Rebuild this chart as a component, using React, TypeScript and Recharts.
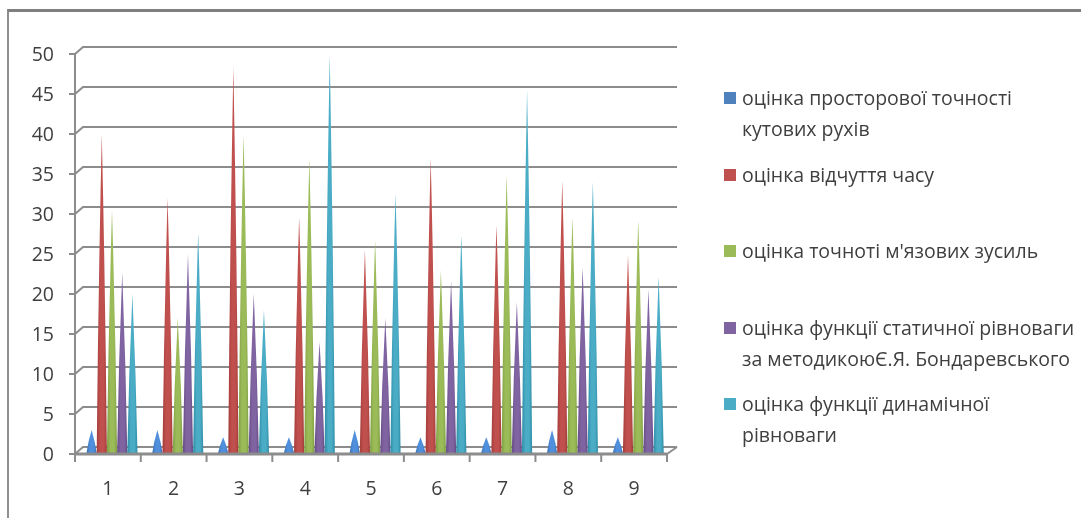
import { BarChart, Bar, XAxis, YAxis, CartesianGrid, Legend } from 'recharts'

const categories = ['1', '2', '3', '4', '5', '6', '7', '8', '9']
const yTicks = [0, 5, 10, 15, 20, 25, 30, 35, 40, 45, 50]

const spatial = [3, 3, 2.1, 2.1, 3, 2.1, 2.1, 3, 2.1]
const timing = [40, 32, 48.4, 29.6, 25.5, 37, 28.6, 34.2, 24.9]
const muscular = [30.5, 17, 40, 37, 26.7, 23, 34.9, 29.6, 29.2]
const staticBalance = [22.7, 25, 20, 14, 17, 21.7, 19, 23.4, 20.6]
const dynamicBalance = [20, 27.6, 18, 50, 32.6, 27.3, 45.5, 34, 22.2]

const seriesNames = [
  'оцінка просторової точності\nкутових рухів',
  'оцінка відчуття часу',
  'оцінка точноті м\'язових зусиль',
  'оцінка функції статичної рівноваги\nза методикоюЄ.Я. Бондаревського',
  'оцінка функції динамічної\nрівноваги',
]
const seriesValues = [spatial, timing, muscular, staticBalance, dynamicBalance]
const seriesColors = ['#4F8FDB', '#C0504D', '#9BBB59', '#8064A2', '#4BACC6']
const seriesEdges = ['#3A6FB5', '#A33C3A', '#7F9E42', '#654C85', '#2F8CA6']
const legendColors = ['#4F81BD', '#C0504D', '#9BBB59', '#8064A2', '#4BACC6']
const legendTops = [86, 163, 239, 316, 392]

const data = categories.map((name, i) => {
  const row: Record<string, string | number> = { name }
  seriesValues.forEach((vals, s) => { row['s' + s] = vals[i] })
  return row
})

const GRID = '#8c8c8c'
const TEXT = '#3f3f3f'
const FONT = '"Open Sans", sans-serif'
const PLOT_W = 592
const BAND = PLOT_W / categories.length

// the cones sit a bit right of the band centre, like in the 3D original,
// and bulge slightly so they stay as fat as the blurred originals
function Cone(props: any) {
  const { x, y, width, height } = props
  const s = props.seriesIndex
  const cx = x + width / 2 + 4.5
  const half = width / 2
  const base = y + height - 1
  const midY = y + height * 0.5
  const d = `M${cx},${y} Q${cx + half * 0.7},${midY} ${cx + half},${base} L${cx - half},${base} Q${cx - half * 0.7},${midY} ${cx},${y} Z`
  return <path d={d} fill={`url(#cone${s})`} />
}

function GridLine(props: any) {
  const { x1, x2, y1 } = props
  return (
    <polyline
      points={`${x1},${y1} ${x1 + 8},${y1 - 7} ${x2 + 10},${y1 - 7}`}
      fill="none"
      stroke={GRID}
      strokeWidth={2}
    />
  )
}

function XTick(props: any) {
  const { x, y, payload, index } = props
  const left = x - BAND / 2
  return (
    <g>
      <line x1={left} x2={left} y1={y - 8} y2={y} stroke={GRID} strokeWidth={2} />
      {index === categories.length - 1 && (
        <>
          <line x1={left + BAND} x2={left + BAND} y1={y - 8} y2={y} stroke={GRID} strokeWidth={2} />
          <line x1={left + BAND} x2={left + BAND + 10} y1={y - 8} y2={y - 15} stroke={GRID} strokeWidth={2} />
        </>
      )}
      <text x={x} y={y + 33} textAnchor="middle" fontSize={19.5} fontFamily={FONT} fill={TEXT}>
        {payload.value}
      </text>
    </g>
  )
}

function LegendBox({ payload }: any) {
  return (
    <div style={{ position: 'relative', width: 357, height: 400 }}>
      {(payload || []).map((item: any, i: number) => (
        <div key={i} style={{ position: 'absolute', left: 0, top: legendTops[i] - 86 }}>
          <span style={{ position: 'absolute', left: 0, top: 6, width: 12, height: 12, background: legendColors[i] }} />
          <div style={{
            marginLeft: 18, whiteSpace: 'pre', fontFamily: FONT, fontSize: 19.5,
            lineHeight: '31px', color: TEXT, marginTop: -4,
          }}>
            {item.value}
          </div>
        </div>
      ))}
    </div>
  )
}

export default function App() {
  return (
    <div style={{ position: 'absolute', left: 0, top: 0, width: 1081, height: 518, background: '#fff', overflow: 'hidden', filter: 'blur(0.45px)' }}>
      <div style={{ position: 'absolute', left: 7, top: 9, right: 0, bottom: 0, borderTop: '3px solid #7f7f7f', borderLeft: '2px solid #8f8f8f' }} />
      <BarChart
        width={1081}
        height={518}
        data={data}
        margin={{ top: 54, right: 57, left: 0, bottom: 0 }}
        barGap={0}
        barSize={10.2}
        style={{ position: 'absolute', left: 0, top: 0 }}
      >
        <defs>
          {seriesColors.map((c, i) => (
            <linearGradient key={i} id={`cone${i}`} x1="0" y1="0" x2="1" y2="0">
              <stop offset="0%" stopColor={seriesEdges[i]} />
              <stop offset="35%" stopColor={c} />
              <stop offset="70%" stopColor={c} />
              <stop offset="100%" stopColor={seriesEdges[i]} />
            </linearGradient>
          ))}
        </defs>
        <CartesianGrid vertical={false} horizontal={<GridLine />} />
        <XAxis
          dataKey="name"
          height={64}
          axisLine={{ stroke: GRID, strokeWidth: 3 }}
          tickLine={false}
          tick={<XTick />}
          interval={0}
        />
        <YAxis
          width={75}
          domain={[0, 50]}
          ticks={yTicks}
          interval={0}
          axisLine={{ stroke: GRID, strokeWidth: 2 }}
          tickLine={{ stroke: GRID, strokeWidth: 2 }}
          tickSize={6}
          tickMargin={15}
          tick={{ fill: TEXT, fontSize: 19.5, fontFamily: FONT }}
        />
        <Legend
          layout="vertical"
          align="right"
          verticalAlign="top"
          width={357}
          itemSorter={null}
          content={<LegendBox />}
          wrapperStyle={{ left: 724, top: 86, width: 357 }}
        />
        {seriesNames.map((n, i) => (
          <Bar
            key={i}
            dataKey={'s' + i}
            name={n}
            fill={legendColors[i]}
            isAnimationActive={false}
            shape={(p: any) => <Cone {...p} seriesIndex={i} />}
          />
        ))}
      </BarChart>
    </div>
  )
}
